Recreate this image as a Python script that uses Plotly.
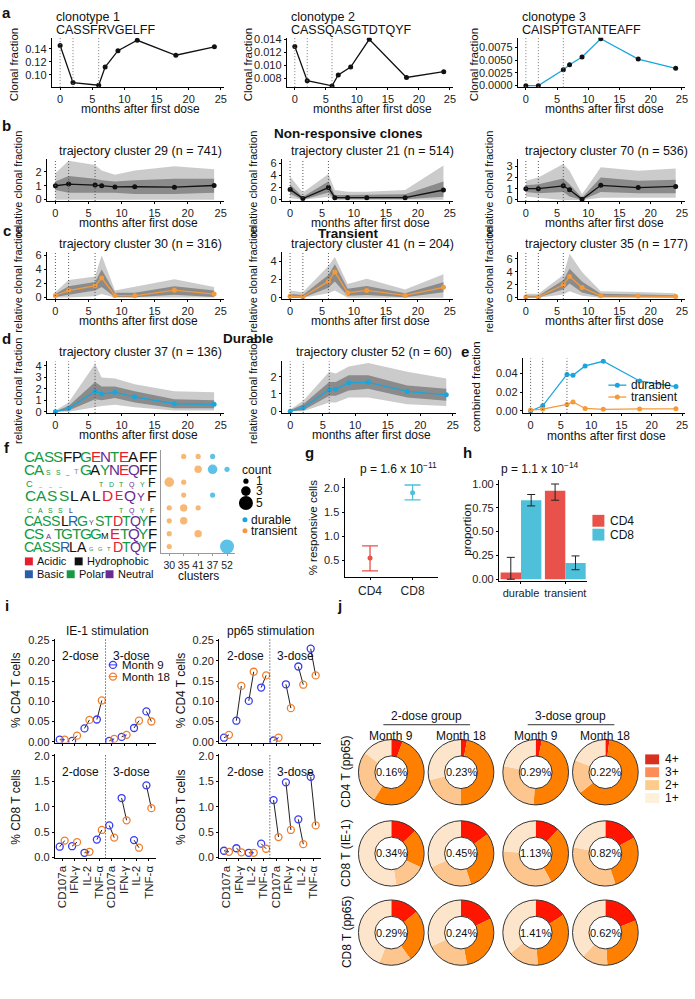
import plotly.graph_objects as go

W, H = 695, 999

# ----------------------------- data -----------------------------
months = [0, 2, 6, 7, 9, 12, 18, 24]
dose_marks = [0, 2, 6]

clono_names = ["clonotype 1", "clonotype 2", "clonotype 3"]
clono_seqs = ["CASSFRVGELFF", "CASSQASGTDTQYF", "CAISPTGTANTEAFF"]
clono1 = [0.145, 0.088, 0.084, 0.112, 0.137, 0.153, 0.130, 0.143]
clono2 = [0.0129, 0.0076, 0.0068, 0.0085, 0.0097, 0.0140, 0.0081, 0.0090]
clono3 = [0.0000, 0.0000, 0.0031, 0.0041, 0.0056, 0.0092, 0.0052, 0.0034]

# trajectory clusters: mean, outer envelope, dense core envelope
c29_mean = [1.0, 1.12, 1.05, 1.0, 0.92, 0.93, 0.90, 1.02]
c29_hi = [1.9, 2.8, 2.5, 2.1, 1.8, 2.1, 2.4, 2.2]
c29_lo = [0.0, 0.0, 0.0, 0.0, 0.0, 0.0, 0.0, 0.0]
c29_core_hi = [1.3, 1.7, 1.5, 1.4, 1.3, 1.4, 1.5, 1.5]
c29_core_lo = [0.7, 0.5, 0.5, 0.5, 0.5, 0.4, 0.4, 0.5]

c21_mean = [1.7, 0.2, 2.0, 0.35, 0.35, 0.35, 0.35, 1.6]
c21_hi = [3.8, 1.2, 4.2, 1.6, 1.3, 1.3, 1.6, 5.6]
c21_lo = [0.3, 0.0, 0.5, 0.0, 0.0, 0.0, 0.0, 0.0]
c21_core_hi = [2.5, 0.5, 3.0, 0.8, 0.8, 0.8, 0.9, 3.0]
c21_core_lo = [1.0, 0.0, 1.2, 0.1, 0.1, 0.1, 0.1, 0.5]

c70_mean = [1.0, 1.0, 1.25, 0.9, 0.05, 1.3, 1.1, 1.2]
c70_hi = [1.7, 2.0, 3.2, 2.6, 0.5, 2.9, 2.6, 2.8]
c70_lo = [0.3, 0.2, 0.0, 0.0, 0.0, 0.2, 0.2, 0.2]
c70_core_hi = [1.3, 1.4, 1.9, 1.4, 0.2, 2.0, 1.7, 1.8]
c70_core_lo = [0.7, 0.6, 0.7, 0.3, 0.0, 0.7, 0.6, 0.6]

c30_mean = [0.3, 1.0, 1.7, 2.8, 0.3, 0.25, 1.05, 0.5]
c30_hi = [0.8, 2.5, 3.0, 6.0, 1.0, 1.5, 2.6, 1.5]
c30_lo = [0.0, 0.0, 0.2, 0.5, 0.0, 0.0, 0.0, 0.0]
c30_core_hi = [0.5, 1.6, 2.2, 4.0, 0.7, 0.7, 1.6, 1.0]
c30_core_lo = [0.1, 0.4, 1.0, 1.5, 0.1, 0.05, 0.4, 0.1]

c41_mean = [0.15, 0.1, 1.8, 2.85, 0.55, 0.8, 0.25, 1.15]
c41_hi = [0.8, 0.6, 3.5, 4.5, 1.5, 2.1, 0.9, 2.6]
c41_lo = [0.0, 0.0, 0.5, 0.8, 0.0, 0.0, 0.0, 0.0]
c41_core_hi = [0.4, 0.3, 2.5, 3.7, 1.0, 1.3, 0.5, 1.7]
c41_core_lo = [0.0, 0.0, 1.1, 1.8, 0.2, 0.3, 0.05, 0.6]

c35_mean = [0.1, 0.1, 2.0, 3.3, 1.6, 0.3, 0.25, 0.2]
c35_hi = [0.6, 0.6, 3.5, 6.8, 4.0, 1.0, 0.9, 0.7]
c35_lo = [0.0, 0.0, 0.5, 1.0, 0.3, 0.0, 0.0, 0.0]
c35_core_hi = [0.3, 0.3, 2.7, 4.5, 2.5, 0.6, 0.5, 0.4]
c35_core_lo = [0.0, 0.0, 1.3, 2.2, 0.8, 0.1, 0.05, 0.05]

c37_mean = [0.0, 0.3, 1.8, 1.55, 1.7, 1.3, 0.7, 0.65]
c37_hi = [0.1, 0.8, 4.2, 3.0, 2.9, 2.4, 1.8, 1.7]
c37_lo = [0.0, 0.0, 0.4, 0.5, 0.6, 0.4, 0.1, 0.1]
c37_core_hi = [0.05, 0.5, 2.6, 2.2, 2.2, 1.8, 1.1, 1.0]
c37_core_lo = [0.0, 0.1, 1.1, 1.0, 1.2, 0.8, 0.3, 0.3]

c52_mean = [0.0, 0.2, 1.25, 1.28, 1.65, 1.68, 1.15, 0.95]
c52_hi = [0.1, 0.6, 2.3, 2.2, 2.6, 2.8, 2.3, 1.9]
c52_lo = [0.0, 0.0, 0.5, 0.5, 0.8, 0.8, 0.4, 0.3]
c52_core_hi = [0.05, 0.4, 1.7, 1.7, 2.1, 2.1, 1.5, 1.3]
c52_core_lo = [0.0, 0.05, 0.9, 0.9, 1.2, 1.3, 0.8, 0.6]

# panel e
e_durable = [0.0, 0.0055, 0.039, 0.038, 0.048, 0.053, 0.032, 0.026]
e_transient = [0.001, 0.002, 0.007, 0.0097, 0.0027, 0.0018, 0.0022, 0.0023]

# panel f
f_clusters = ["30", "35", "41", "37", "52"]
f_row = [1, 1, 1, 2, 2, 2, 3, 3, 4, 4, 5, 5, 5, 6, 6, 7, 7, 8, 8]
f_cluster = ["35", "41", "37", "41", "37", "52", "30", "35", "35", "37",
             "30", "35", "41", "30", "35", "30", "41", "30", "52"]
f_count = [1, 1, 1, 2, 3, 1, 3, 1, 1, 1, 1, 2, 1, 1, 2, 1, 2, 1, 5]
f_type = ["t", "t", "d", "t", "d", "d", "t", "t", "t", "d",
          "t", "t", "t", "t", "t", "t", "t", "t", "d"]

# panel g
g_groups = ["CD4", "CD8"]
g_mean = [0.55, 1.90]
g_low = [0.28, 1.75]
g_high = [0.80, 2.06]

# panel h
h_groups = ["durable", "transient"]
h_cd4 = [0.07, 0.93]
h_cd4_low = [0.0, 0.83]
h_cd4_high = [0.23, 1.0]
h_cd8 = [0.83, 0.17]
h_cd8_low = [0.77, 0.10]
h_cd8_high = [0.89, 0.245]

# panel i
i_markers = ["CD107a", "IFN-γ", "IL-2", "TNF-α", "CD107a", "IFN-γ", "IL-2", "TNF-α"]
ie1_cd4_m9 = [0.005, 0.002, 0.033, 0.055, 0.002, 0.012, 0.034, 0.075]
ie1_cd4_m18 = [0.005, 0.015, 0.054, 0.102, 0.007, 0.017, 0.052, 0.050]
ie1_cd8_m9 = [0.21, 0.22, 0.09, 0.35, 0.63, 1.17, 0.34, 1.42]
ie1_cd8_m18 = [0.33, 0.30, 0.11, 0.54, 0.39, 0.73, 0.19, 0.97]
pp65_cd4_m9 = [0.010, 0.052, 0.101, 0.134, 0.003, 0.142, 0.186, 0.230]
pp65_cd4_m18 = [0.017, 0.138, 0.173, 0.164, 0.010, 0.083, 0.141, 0.164]
pp65_cd8_m9 = [0.13, 0.18, 0.09, 0.27, 1.13, 1.48, 0.75, 1.59]
pp65_cd8_m18 = [0.11, 0.10, 0.09, 0.17, 0.40, 0.54, 0.26, 0.63]

# panel j  (fractions of 4+, 3+, 2+, 1+)
j_levels = ["4+", "3+", "2+", "1+"]
j_rows = ["CD4 T (pp65)", "CD8 T (IE-1)", "CD8 T (pp65)"]
j_cols = ["Month 9", "Month 18", "Month 9", "Month 18"]
j_cd4_pp65 = [[0.056, 0.534, 0.26, 0.15], [0.03, 0.47, 0.21, 0.29],
              [0.03, 0.48, 0.27, 0.22], [0.02, 0.62, 0.17, 0.19]]
j_cd8_ie1 = [[0.13, 0.19, 0.155, 0.525], [0.15, 0.30, 0.23, 0.32],
             [0.12, 0.30, 0.34, 0.24], [0.17, 0.28, 0.33, 0.22]]
j_cd8_pp65 = [[0.14, 0.26, 0.16, 0.44], [0.18, 0.29, 0.21, 0.32],
              [0.16, 0.33, 0.15, 0.36], [0.19, 0.30, 0.13, 0.38]]
j_pct = [["0.16%", "0.23%", "0.29%", "0.22%"],
         ["0.34%", "0.45%", "1.13%", "0.82%"],
         ["0.29%", "0.24%", "1.41%", "0.62%"]]

# ----------------------------- styles -----------------------------
BLACK = "#111111"
ORANGE = "#F39A3B"
CYAN = "#1AA6DD"
RED4 = "#E8524A"
CYAN8 = "#4FC0DA"
BLUE9 = "#3A3AF0"
OR18 = "#F07F2D"
J_COLORS = ["#FF1500", "#FF8000", "#FDC68E", "#FDE5CB"]
J_LEG = ["#D7301F", "#FC8D59", "#FDCC8A", "#FEF0D9"]
G = "#139A43"; P = "#6A2C91"; B = "#2B5DA8"; R_ = "#E4202F"; K = "#111111"; GR = "#8a8a8a"

# sequence logos: (letter, colour, relative height)
logo_rows = [
    [("C", G, 1), ("A", G, 1), ("S", G, 1), ("S", G, 1), ("F", K, 1), ("P", K, 1), ("G", G, 1),
     ("E", R_, 1), ("N", P, 1), ("T", G, 1), ("E", R_, 1), ("A", K, 1), ("F", K, 1), ("F", K, 1)],
    [("C", G, 1), ("A", G, 1), ("S", G, .45), ("S", G, .45), ("_", K, .4), ("T", GR, .5),
     ("G", G, 1), ("A", K, 1), ("Y", G, 1), ("N", P, 1), ("E", R_, 1), ("Q", P, 1), ("F", K, 1),
     ("F", K, 1)],
    [("C", G, .6), ("_", G, .35), ("_", G, .35), ("_", G, .35), ("", K, 0), ("", K, 0), ("", K, 0),
     ("T", G, .45), ("D", G, .45), ("T", G, .45), ("Q", P, .45), ("Y", G, .45), ("F", K, .8)],
    [("C", G, 1), ("A", G, 1), ("S", G, 1), ("S", G, 1), ("L", K, 1), ("A", K, 1), ("L", K, 1),
     ("D", R_, 1), ("E", R_, .8), ("Q", P, 1), ("Y", P, .75), ("F", K, 1)],
    [("C", G, .45), ("A", G, .45), ("S", G, .45), ("S", G, .45), ("L", K, .45), ("", K, 0),
     ("", K, 0), ("", K, 0), ("", K, 0), ("T", G, .45), ("Q", P, .45), ("Y", G, .45),
     ("F", K, .45)],
    [("C", G, 1), ("A", G, 1), ("S", G, 1), ("S", G, 1), ("L", K, 1), ("R", B, 1), ("G", G, 1),
     ("Y", P, .5), ("S", G, 1), ("T", G, 1), ("D", R_, 1), ("T", G, 1), ("Q", P, 1), ("Y", G, 1),
     ("F", K, 1)],
    [("C", G, 1), ("S", G, 1), ("A", P, .5), ("T", G, 1), ("G", G, 1), ("T", G, 1), ("G", G, 1),
     ("G", G, 1), ("M", K, .6), ("E", R_, 1), ("T", G, 1), ("Q", P, 1), ("Y", G, 1), ("F", K, 1)],
    [("C", G, 1), ("A", G, 1), ("S", G, 1), ("S", G, 1), ("R", B, 1), ("L", K, 1), ("A", K, 1),
     ("G", G, .4), ("G", G, .4), ("T", G, .4), ("D", R_, 1), ("T", G, 1), ("Q", P, 1),
     ("Y", G, 1), ("F", K, 1)],
]

fig = go.Figure()
fig.update_layout(
    width=W, height=H, autosize=False, margin=dict(l=0, r=0, t=0, b=0),
    paper_bgcolor="white", plot_bgcolor="rgba(0,0,0,0)",
    font=dict(family="Liberation Sans, Arial, sans-serif", size=11, color="#111"),
    showlegend=False, barmode="group", bargap=0.08, bargroupgap=0.0,
    xaxis=dict(domain=[0, 1], range=[0, W], visible=False, fixedrange=True),
    yaxis=dict(domain=[0, 1], range=[H, 0], visible=False, fixedrange=True),
)

AX = dict(showline=True, linecolor="black", linewidth=1, ticks="outside", ticklen=2,
          tickwidth=1, tickcolor="black", showgrid=False, zeroline=False,
          tickfont=dict(size=11, color="#222"))
counter = [1]


def new_axes(x0, x1, y0, y1, xr, yr, xkw=None, ykw=None):
    counter[0] += 1
    i = counter[0]
    xa = dict(AX, domain=[x0 / W, x1 / W], anchor=f"y{i}", range=xr, tickangle=0)
    ya = dict(AX, domain=[1 - y1 / H, 1 - y0 / H], anchor=f"x{i}", range=yr)
    if xkw:
        xa.update(xkw)
    if ykw:
        ya.update(ykw)
    fig.update_layout({f"xaxis{i}": xa, f"yaxis{i}": ya})
    return f"x{i}", f"y{i}"


def txt(x, y, s, size=11, xa="center", ya="middle", angle=0, color="#111", bold=False):
    if bold:
        s = f"<b>{s}</b>"
    fig.add_annotation(x=x, y=y, xref="x", yref="y", text=s, showarrow=False,
                       font=dict(size=size, color=color), xanchor=xa, yanchor=ya,
                       textangle=angle)


def vdots(xr, yr, xs, color="#777"):
    for t in xs:
        fig.add_shape(type="line", x0=t, x1=t, y0=0, y1=1, xref=xr, yref=f"{yr} domain",
                      line=dict(color=color, width=1, dash="1px,2px"))


XR = [-1.3, 25.5]
XT = dict(tickvals=[0, 5, 10, 15, 20, 25])
TITLE_SZ = 12

# ----------------------------- panel a -----------------------------
a_boxes = [(52, 225), (288, 455), (520, 688)]
a_data = [clono1, clono2, clono3]
a_ranges = [[0.081, 0.157], [0.0066, 0.01425], [-0.0003, 0.0094]]
a_ticks = [[0.10, 0.12, 0.14], [0.008, 0.010, 0.012, 0.014], [0.0, 0.0025, 0.005, 0.0075]]
a_fmt = [".2f", ".3f", ".4f"]
a_col = [BLACK, BLACK, CYAN]
a_ytitle_x = [14, 249, 476]
AY0, AY1 = 33, 83
for k in range(3):
    x0, x1 = a_boxes[k]
    xr, yr = new_axes(x0, x1, AY0, AY1, XR, a_ranges[k], XT,
                      dict(tickvals=a_ticks[k], tickformat=a_fmt[k]))
    vdots(xr, yr, dose_marks)
    fig.add_trace(go.Scatter(x=months, y=a_data[k], mode="lines", xaxis=xr, yaxis=yr,
                             line=dict(color=a_col[k], width=1.3)))
    fig.add_trace(go.Scatter(x=months, y=a_data[k], mode="markers", xaxis=xr, yaxis=yr,
                             marker=dict(color=BLACK, size=5)))
    txt(x0 + 2, 12, clono_names[k], size=12.5, xa="left")
    txt(x0 + 2, 25, clono_seqs[k], size=12.5, xa="left")
    txt((x0 + x1) / 2 + 3, AY1 + 22, "months after first dose", size=TITLE_SZ)
    txt(a_ytitle_x[k], (AY0 + AY1) / 2 + 2, "Clonal fraction", size=11.5, angle=-90)

# ----------------------------- panels b, c, d -----------------------------
BAND_OUT = "rgba(200,200,200,0.95)"
BAND_CORE = "rgba(135,135,135,0.95)"


def traj(box, y0, y1, yr, ytv, mean, lo, hi, clo, chi, color, title, ty):
    x0, x1 = box
    xr, yr_ = new_axes(x0, x1, y0, y1, XR, yr, XT, dict(tickvals=ytv))
    fig.add_trace(go.Scatter(x=months + months[::-1], y=hi + lo[::-1], fill="toself",
                             fillcolor=BAND_OUT, line=dict(width=0), mode="lines",
                             xaxis=xr, yaxis=yr_, hoverinfo="skip"))
    fig.add_trace(go.Scatter(x=months + months[::-1], y=chi + clo[::-1], fill="toself",
                             fillcolor=BAND_CORE, line=dict(width=0), mode="lines",
                             xaxis=xr, yaxis=yr_, hoverinfo="skip"))
    vdots(xr, yr_, dose_marks, "#555")
    fig.add_trace(go.Scatter(x=months, y=mean, mode="lines+markers", xaxis=xr, yaxis=yr_,
                             line=dict(color=color, width=1.3), marker=dict(color=color, size=5)))
    txt((x0 + x1) / 2 + 5, ty, title, size=12.5)
    txt((x0 + x1) / 2 + 3, y1 + 22, "months after first dose", size=TITLE_SZ)
    txt(x0 - 29, (y0 + y1) / 2 + 4, "relative clonal fraction", size=11, angle=-90)


bx = [(47, 225), (283, 455), (520, 688)]
BY = (156, 198)
CY = (250, 297)
DY = (360, 412)
traj(bx[0], *BY, [-0.1, 2.9], [0, 1, 2], c29_mean, c29_lo, c29_hi, c29_core_lo, c29_core_hi,
     BLACK, "trajectory cluster 29 (n = 741)", 147)
traj(bx[1], *BY, [-0.2, 6.6], [0, 2, 4, 6], c21_mean, c21_lo, c21_hi, c21_core_lo, c21_core_hi,
     BLACK, "trajectory cluster 21 (n = 514)", 147)
traj(bx[2], *BY, [-0.1, 3.6], [0, 1, 2, 3], c70_mean, c70_lo, c70_hi, c70_core_lo, c70_core_hi,
     BLACK, "trajectory cluster 70 (n = 536)", 147)
traj(bx[0], *CY, [-0.2, 6.4], [0, 2, 4, 6], c30_mean, c30_lo, c30_hi, c30_core_lo, c30_core_hi,
     ORANGE, "trajectory cluster 30 (n = 316)", 241)
traj(bx[1], *CY, [-0.15, 5.0], [0, 2, 4], c41_mean, c41_lo, c41_hi, c41_core_lo, c41_core_hi,
     ORANGE, "trajectory cluster 41 (n = 204)", 241)
traj(bx[2], *CY, [-0.2, 7.0], [0, 2, 4, 6], c35_mean, c35_lo, c35_hi, c35_core_lo, c35_core_hi,
     ORANGE, "trajectory cluster 35 (n = 177)", 241)
traj((47, 225), *DY, [-0.1, 4.4], [0, 1, 2, 3, 4], c37_mean, c37_lo, c37_hi, c37_core_lo,
     c37_core_hi, CYAN, "trajectory cluster 37 (n = 136)", 351)
traj((283, 458), *DY, [-0.1, 2.9], [0, 1, 2], c52_mean, c52_lo, c52_hi, c52_core_lo,
     c52_core_hi, CYAN, "trajectory cluster 52 (n = 60)", 351)

txt(350, 130, "Non-responsive clones", size=13.5, bold=True)
txt(350, 231, "Transient", size=13.5, bold=True)
txt(250, 337, "Durable", size=13.5, bold=True)

# ----------------------------- panel e -----------------------------
xr, yr = new_axes(525, 688, 357, 412, XR, [-0.002, 0.056], XT,
                  dict(tickvals=[0, 0.02, 0.04], tickformat=".2f"))
vdots(xr, yr, dose_marks, "#555")
fig.add_trace(go.Scatter(x=months, y=e_durable, mode="lines+markers", xaxis=xr, yaxis=yr,
                         line=dict(color=CYAN, width=1.3), marker=dict(color=CYAN, size=5)))
fig.add_trace(go.Scatter(x=months, y=e_transient, mode="lines+markers", xaxis=xr, yaxis=yr,
                         line=dict(color=ORANGE, width=1.3), marker=dict(color=ORANGE, size=5)))
txt(609, 435, "months after first dose", size=TITLE_SZ)
txt(478, 385, "combined fraction", size=11.5, angle=-90)
for yy, col, lab in [(384, CYAN, "durable"), (396, ORANGE, "transient")]:
    fig.add_trace(go.Scatter(x=[611, 629], y=[yy, yy], mode="lines", xaxis="x", yaxis="y",
                             line=dict(color=col, width=1.3)))
    fig.add_trace(go.Scatter(x=[620], y=[yy], mode="markers", xaxis="x", yaxis="y",
                             marker=dict(color=col, size=5)))
    txt(632, yy, lab, size=12, xa="left")

# ----------------------------- panel f -----------------------------
xr, yr = new_axes(162, 236, 449.5, 553.5, [-0.55, 4.55], [8.5, 0.5],
                  dict(type="category", categoryorder="array", categoryarray=f_clusters,
                       linecolor="#999", tickcolor="#999", tickangle=0,
                       tickfont=dict(size=10.5, color="#222")),
                  dict(showticklabels=False, ticks="", linecolor="#999"))
fig.add_trace(go.Scatter(x=f_cluster, y=f_row, mode="markers", xaxis=xr, yaxis=yr,
                         marker=dict(size=[3 + 2.2 * c for c in f_count],
                                     color=[CYAN if t == "d" else ORANGE for t in f_type],
                                     line=dict(width=0))))
txt(199, 577, "clusters", size=12)

LX0, LX1 = 25, 158
for k, row in enumerate(logo_rows):
    n = len(row)
    w = (LX1 - LX0) / n
    fs = min(15.5, w * 1.6)
    yc = 456 + 13 * k
    for j, (ch, col, s) in enumerate(row):
        if not ch:
            continue
        f = fs * s
        fig.add_annotation(x=LX0 + w * (j + 0.5), y=yc + (1 - s) * fs * 0.33, xref="x", yref="y",
                           text=ch, showarrow=False, xanchor="center", yanchor="middle",
                           font=dict(size=f, color=col, family="Liberation Sans, Arial"))

# count legend
txt(241, 470, "count", size=12, xa="left")
for yy, c in [(481, 1), (491, 3), (503, 5)]:
    fig.add_trace(go.Scatter(x=[247], y=[yy], mode="markers", xaxis="x", yaxis="y",
                             marker=dict(size=3 + 2.2 * c, color="black")))
    txt(255, yy, str(c), size=12, xa="left")
for yy, col, lab in [(520, CYAN, "durable"), (531, ORANGE, "transient")]:
    fig.add_trace(go.Scatter(x=[246], y=[yy], mode="markers", xaxis="x", yaxis="y",
                             marker=dict(size=5, color=col)))
    txt(250, yy, lab, size=12, xa="left")
# chemistry legend
for (xx, yy, col, lab) in [(25, 562, "#E4202F", "Acidic"), (75, 562, "#111111", "Hydrophobic"),
                           (25, 575, "#2B5DA8", "Basic"), (67, 575, "#139A43", "Polar"),
                           (106, 575, "#6A2C91", "Neutral")]:
    fig.add_shape(type="rect", x0=xx, x1=xx + 8, y0=yy - 4, y1=yy + 4, xref="x", yref="y",
                  fillcolor=col, line=dict(width=0))
    txt(xx + 10, yy, lab, size=11, xa="left")

# ----------------------------- panel g -----------------------------
xr, yr = new_axes(346, 440, 478, 578, [0.4, 2.6], [0.15, 2.2],
                  dict(tickvals=[1, 2], ticktext=g_groups, tickfont=dict(size=12, color="#222")),
                  dict(tickvals=[0.5, 1.0, 1.5, 2.0], tickformat=".1f"))
for k, col in enumerate([RED4, CYAN8]):
    fig.add_trace(go.Scatter(x=[k + 1], y=[g_mean[k]], mode="markers", xaxis=xr, yaxis=yr,
                             marker=dict(color=col, size=5),
                             error_y=dict(type="data", symmetric=False,
                                          array=[g_high[k] - g_mean[k]],
                                          arrayminus=[g_mean[k] - g_low[k]],
                                          color=col, thickness=1.3, width=8)))
txt(314, 528, "% responsive cells", size=11.5, angle=-90)
txt(400, 468, "p = 1.6 x 10<sup>−11</sup>", size=12)

# ----------------------------- panel h -----------------------------
xr, yr = new_axes(501, 590, 480, 582, None, [-0.02, 1.04],
                  dict(tickfont=dict(size=11, color="#222"), tickangle=0),
                  dict(tickvals=[0, 0.25, 0.5, 0.75, 1.0], tickformat=".2f"))
fig.add_trace(go.Bar(x=h_groups, y=h_cd4, marker=dict(color=RED4, line=dict(width=0)),
                     offsetgroup="a", xaxis=xr, yaxis=yr,
                     error_y=dict(type="data", symmetric=False,
                                  array=[h - m for h, m in zip(h_cd4_high, h_cd4)],
                                  arrayminus=[m - l for m, l in zip(h_cd4, h_cd4_low)],
                                  color="#222", thickness=1, width=4)))
fig.add_trace(go.Bar(x=h_groups, y=h_cd8, marker=dict(color=CYAN8, line=dict(width=0)),
                     offsetgroup="b", xaxis=xr, yaxis=yr,
                     error_y=dict(type="data", symmetric=False,
                                  array=[h - m for h, m in zip(h_cd8_high, h_cd8)],
                                  arrayminus=[m - l for m, l in zip(h_cd8, h_cd8_low)],
                                  color="#222", thickness=1, width=4)))
txt(469, 530, "proportion", size=11.5, angle=-90)
txt(542, 468, "p = 1.1 x 10<sup>−14</sup>", size=12)
for yy, col, lab in [(521, RED4, "CD4"), (535, CYAN8, "CD8")]:
    fig.add_shape(type="rect", x0=595, x1=607, y0=yy - 6, y1=yy + 6, xref="x", yref="y",
                  fillcolor=col, line=dict(width=0))
    txt(611, yy, lab, size=12, xa="left")

# ----------------------------- panel i -----------------------------
OFF = 0.2


def ipanel(x0, x1, y0, y1, yr, ytv, yfmt, m9, m18, labels):
    xkw = dict(tickvals=list(range(1, 9)), ticktext=i_markers, tickangle=-90,
               showticklabels=labels, tickfont=dict(size=11.5, color="#222"))
    xr, yr_ = new_axes(x0, x1, y0, y1, [0.4, 8.6], yr, xkw, dict(tickvals=ytv, tickformat=yfmt))
    xs9 = [k + 1 - OFF for k in range(8)]
    xs18 = [k + 1 + OFF for k in range(8)]
    lx, ly = [], []
    for a, b, c, d in zip(xs9, m9, xs18, m18):
        lx += [a, c, None]
        ly += [b, d, None]
    fig.add_trace(go.Scatter(x=lx, y=ly, mode="lines", xaxis=xr, yaxis=yr_,
                             line=dict(color="#222", width=1)))
    fig.add_trace(go.Scatter(x=xs9, y=m9, mode="markers", xaxis=xr, yaxis=yr_,
                             marker=dict(symbol="circle-open", size=7, color=BLUE9,
                                         line=dict(width=1.3))))
    fig.add_trace(go.Scatter(x=xs18, y=m18, mode="markers", xaxis=xr, yaxis=yr_,
                             marker=dict(symbol="circle-open", size=7, color=OR18,
                                         line=dict(width=1.3))))
    fig.add_shape(type="line", x0=4.5, x1=4.5, y0=0, y1=1, xref=xr, yref=f"{yr_} domain",
                  line=dict(color="#222", width=1, dash="1px,2px"))
    for xx, lab in [(2.5, "2-dose"), (6.6, "3-dose")]:
        fig.add_annotation(x=xx, y=0.92, xref=xr, yref=f"{yr_} domain", text=lab,
                           showarrow=False, font=dict(size=12))
    return xr, yr_


ytop = (640, 745)
ybot = (757, 862)
xr1, yr1 = ipanel(55, 157, *ytop, [-0.002, 0.255], [0, 0.05, 0.1, 0.15, 0.2, 0.25], ".2f",
                  ie1_cd4_m9, ie1_cd4_m18, False)
ipanel(55, 157, *ybot, [-0.02, 2.03], [0, 0.5, 1.0, 1.5, 2.0], ".1f",
       ie1_cd8_m9, ie1_cd8_m18, True)
ipanel(220, 322, *ytop, [-0.002, 0.255], [0, 0.05, 0.1, 0.15, 0.2, 0.25], ".2f",
       pp65_cd4_m9, pp65_cd4_m18, False)
ipanel(220, 322, *ybot, [-0.02, 2.03], [0, 0.5, 1.0, 1.5, 2.0], ".1f",
       pp65_cd8_m9, pp65_cd8_m18, True)
# legend in first panel
for yy, col, lab in [(0.19, BLUE9, "Month 9"), (0.161, OR18, "Month 18")]:
    fig.add_trace(go.Scatter(x=[4.75, 5.45], y=[yy, yy], mode="lines", xaxis=xr1, yaxis=yr1,
                             line=dict(color=col, width=1)))
    fig.add_trace(go.Scatter(x=[5.1], y=[yy], mode="markers", xaxis=xr1, yaxis=yr1,
                             marker=dict(symbol="circle-open", size=7, color=col,
                                         line=dict(width=1.3))))
    fig.add_annotation(x=5.65, y=yy, xref=xr1, yref=yr1, text=lab, showarrow=False,
                       xanchor="left", font=dict(size=11.5))
txt(108, 632, "IE-1 stimulation", size=12)
txt(272, 632, "pp65 stimulation", size=12)
txt(16, 692, "% CD4 T cells", size=12, angle=-90)
txt(16, 810, "% CD8 T cells", size=12, angle=-90)
txt(182, 692, "% CD4 T cells", size=12, angle=-90)
txt(182, 810, "% CD8 T cells", size=12, angle=-90)

# ----------------------------- panel j -----------------------------
jx = [393, 463, 538, 608]
jy = [775, 857, 937]
R = 33
j_all = [j_cd4_pp65, j_cd8_ie1, j_cd8_pp65]
for r in range(3):
    for c in range(4):
        cx, cy = jx[c], jy[r]
        fig.add_trace(go.Pie(values=j_all[r][c], labels=j_levels, sort=False,
                             direction="clockwise", rotation=0, hole=0.5, textinfo="none",
                             marker=dict(colors=J_COLORS, line=dict(width=0)),
                             domain=dict(x=[(cx - R) / W, (cx + R) / W],
                                         y=[1 - (cy + R) / H, 1 - (cy - R) / H])))
        fig.add_shape(type="circle", x0=cx - R, x1=cx + R, y0=cy - R, y1=cy + R, xref="x",
                      yref="y", line=dict(color="#333", width=1))
        fig.add_shape(type="circle", x0=cx - R / 2, x1=cx + R / 2, y0=cy - R / 2, y1=cy + R / 2,
                      xref="x", yref="y", line=dict(color="#333", width=1))
        txt(cx, cy, j_pct[r][c], size=11)
    txt(348, jy[r], j_rows[r], size=12, angle=-90)
for c in range(4):
    txt(jx[c], 738, j_cols[c], size=12)
for xc, x0, x1, lab in [(428, 385, 472, "2-dose group"), (573, 530, 617, "3-dose group")]:
    txt(xc, 718, lab, size=12)
    fig.add_shape(type="line", x0=x0, x1=x1, y0=727, y1=727, xref="x", yref="y",
                  line=dict(color="#333", width=1))
for k, (lab, col) in enumerate(zip(j_levels, J_LEG)):
    yy = 762 + 13 * k
    fig.add_shape(type="rect", x0=648, x1=662, y0=yy - 5, y1=yy + 5, xref="x", yref="y",
                  fillcolor=col, line=dict(width=0))
    txt(666, yy, lab, size=12, xa="left")

# ----------------------------- panel letters -----------------------------
for lab, x, y in [("a", 7, 8), ("b", 7, 122), ("c", 7, 228), ("d", 7, 337), ("e", 467, 350),
                  ("f", 7, 447), ("g", 311, 452), ("h", 470, 452), ("i", 7, 607), ("j", 341, 607)]:
    txt(x, y, lab, size=15, bold=True)

fig.write_html(
    "out.html",
    config={"displayModeBar": False, "staticPlot": True},
    post_script="document.body.style.margin='0';document.body.style.overflow='hidden';"
                "document.documentElement.style.overflow='hidden';",
)
